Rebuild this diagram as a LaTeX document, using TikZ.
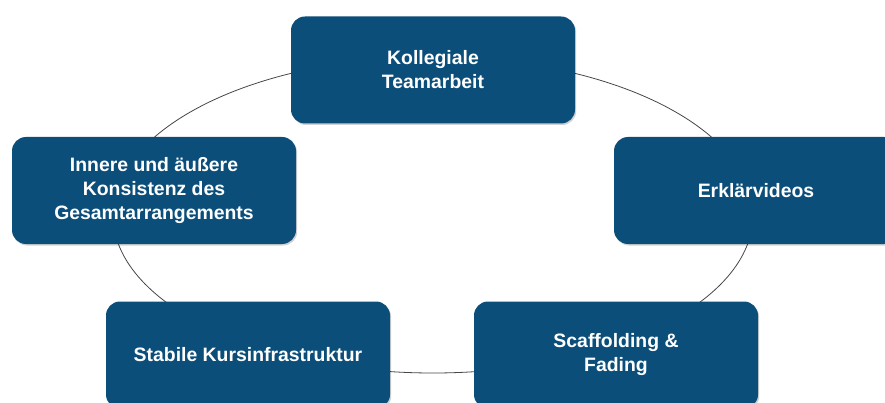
\documentclass[tikz,border=0pt]{standalone}
\usepackage{fontspec}
\setmainfont{Liberation Sans}
\usetikzlibrary{shadows}
\definecolor{boxblue}{RGB}{12,78,122}
\definecolor{ringgray}{RGB}{70,70,70}
\tikzset{
  topic/.style={draw=none, fill=boxblue, rounded corners=14pt,
    minimum width=284pt, minimum height=107pt, text=white, align=center,
    font=\fontsize{19.4}{24}\selectfont\bfseries,
    drop shadow={shadow xshift=1.2pt, shadow yshift=-1.5pt, fill=black, opacity=0.18}},
  ring/.style={draw=ringgray, line width=0.8pt}
}
\begin{document}
\begin{tikzpicture}[x=1pt,y=-1pt]
\useasboundingbox (0,0) rectangle (885,403);
\coordinate (c) at (433,215);
\draw[ring] (c) ellipse [x radius=320pt, y radius=158pt];
\node[topic] (team) at (433,70) {Kollegiale\\Teamarbeit};
\node[topic] (video) at (756,190.5) {Erklärvideos};
\node[topic] (kons) at (154,190.5) {Innere und äußere\\Konsistenz des\\Gesamtarrangements};
\node[topic] (infra) at (248,355) {Stabile Kursinfrastruktur};
\node[topic] (scaf) at (616,355) {Scaffolding \&\\Fading};
\end{tikzpicture}
\end{document}
